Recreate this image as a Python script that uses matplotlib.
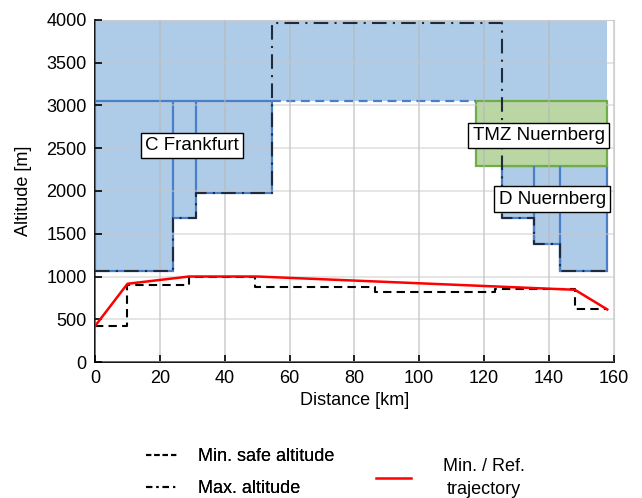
import numpy as np
import matplotlib
matplotlib.use('Agg')
import matplotlib.pyplot as plt
from matplotlib.patches import Polygon
from matplotlib.lines import Line2D

plt.rcParams['font.family'] = ['Liberation Sans', 'DejaVu Sans']
plt.rcParams['font.size'] = 13

## minimum safe altitude (step, where='post')
mina_dist = [0, 10, 29, 49.5, 86.5, 123.5, 148, 158]
mina_alt = [420, 905, 1000, 880, 820, 850, 620, 620]

## maximum altitude (step, where='post')
maxa_dist = [0, 24, 31, 54.5, 125.5, 135.5, 143.5, 158]
maxa_alt = [1060, 1680, 1980, 3960, 1680, 1375, 1060, 1060]

## min / reference trajectory
traj_dist = [0, 10, 29, 50, 148, 158]
traj_alt = [420, 915, 1000, 1000, 845, 615]

## airspaces
frankfurt_dist = [0, 24, 24, 31, 31, 54.5, 54.5, 0]
frankfurt_alt = [1060, 1060, 1680, 1680, 1980, 1980, 3050, 3050]
upper_c_dist = [0, 158, 158, 0]
upper_c_alt = [3050, 3050, 4000, 4000]
nbg_dist = [125.5, 158, 158, 143.5, 143.5, 135.5, 135.5, 125.5]
nbg_alt = [2290, 2290, 1060, 1060, 1375, 1375, 1680, 1680]
tmz_dist = [117.5, 158, 158, 117.5]
tmz_alt = [2290, 2290, 3050, 3050]

labels = ['C Frankfurt', 'TMZ Nuernberg', 'D Nuernberg']
label_dist = [30, 136.8, 141]
label_alt = [2530, 2645, 1905]

blue_fill = '#AECBE8'
blue_edge = '#4A7FC8'

fig = plt.figure(figsize=(6.42, 4.98), dpi=100)
ax = fig.add_axes([0.148, 0.273, 0.808, 0.687])

ax.add_patch(Polygon(np.column_stack([upper_c_dist, upper_c_alt]), closed=True,
                     facecolor=blue_fill, edgecolor='none', zorder=1))
ax.add_patch(Polygon(np.column_stack([frankfurt_dist, frankfurt_alt]), closed=True,
                     facecolor=blue_fill, edgecolor=blue_edge, lw=1.6, zorder=1))
ax.add_patch(Polygon(np.column_stack([nbg_dist, nbg_alt]), closed=True,
                     facecolor=blue_fill, edgecolor=blue_edge, lw=1.6, zorder=1))
ax.add_patch(Polygon(np.column_stack([tmz_dist, tmz_alt]), closed=True,
                     facecolor='#B9D6A3', edgecolor='#70AD47', lw=1.6, zorder=1.2))

# inner sector borders
ax.vlines([24, 31], [1680, 1980], 3050, colors=blue_edge, lw=1.6, zorder=1.5)
ax.vlines([135.5, 143.5], [1375, 1060], 2290, colors=blue_edge, lw=1.6, zorder=1.5)
# lower limit of upper C airspace
ax.plot([54.5, 117.5], [3050, 3050], color=blue_edge, lw=1.6, ls=(0, (4, 2.5)), zorder=1.5)

ax.step(mina_dist, mina_alt, where='post', color='black', lw=1.5, ls=(0, (4, 2.5)), zorder=4)
ax.step(maxa_dist, maxa_alt, where='post', color='#1F2A3A', lw=1.5, ls=(0, (7, 3, 1, 3)), zorder=4)
ax.plot(traj_dist, traj_alt, color='#FF0000', lw=1.8, zorder=5)

for txt, xd, yd in zip(labels, label_dist, label_alt):
    ax.text(xd, yd, txt, ha='center', va='center', fontsize=13.5, zorder=6,
            bbox=dict(boxstyle='square,pad=0.22', fc='white', ec='black', lw=1))

ax.set_xlim(0, 160)
ax.set_ylim(0, 4000)
ax.set_xticks(np.arange(0, 161, 20))
ax.set_yticks(np.arange(0, 4001, 500))
ax.set_axisbelow(False)
ax.grid(True, axis='x', color='#B8B8B8', lw=1.1, alpha=0.7)
ax.grid(True, axis='y', color='#C8C8C8', lw=1.1, alpha=0.6)
ax.tick_params(direction='in', length=5, width=1.2, labelsize=13)
ax.tick_params(axis='x', pad=6)
ax.tick_params(axis='y', pad=6)
for s in ['top', 'right']:
    ax.spines[s].set_color('#D0D0D0')
for s in ['left', 'bottom']:
    ax.spines[s].set_linewidth(1.3)
ax.set_xlabel('Distance [km]', fontsize=13, labelpad=3)
ax.set_ylabel('Altitude [m]', fontsize=13, labelpad=10)

h1 = [Line2D([], [], color='black', lw=1.5, ls=(0, (2.5, 1.5))),
      Line2D([], [], color='black', lw=1.5, ls=(0, (3, 2, 1, 2)))]
leg1 = fig.legend(h1, ['Min. safe altitude', 'Max. altitude'], loc='upper left',
                  bbox_to_anchor=(0.202, 0.133), frameon=False, fontsize=13,
                  handlelength=1.85, handletextpad=1.05, labelspacing=0.85)
leg2 = fig.legend([Line2D([], [], color='#FF0000', lw=1.8)], ['Min. / Ref.\ntrajectory'],
                  loc='center left', bbox_to_anchor=(0.56, 0.04), frameon=False,
                  fontsize=13, handlelength=1.95, handletextpad=1.75)
for t in leg2.get_texts():
    t.set_multialignment('center')
    t.set_linespacing(1.45)
fig.add_artist(leg1)

fig.savefig('out.png', dpi=100)
